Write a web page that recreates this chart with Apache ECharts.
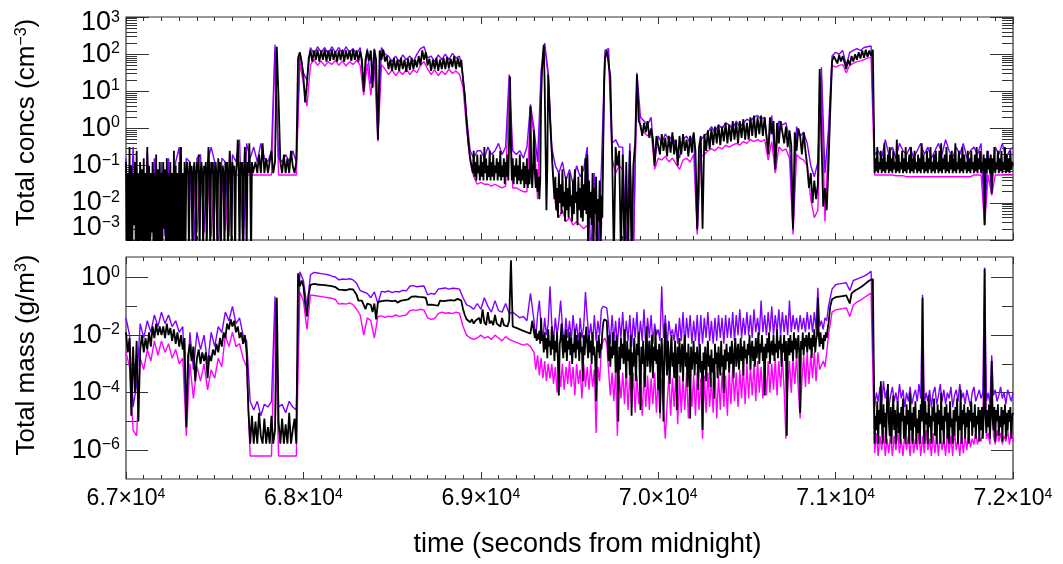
<!DOCTYPE html>
<html>
<head>
<meta charset="utf-8">
<script src="https://cdn.jsdelivr.net/npm/echarts@6/dist/echarts.min.js"></script>
<style>html,body{margin:0;padding:0;background:#fff}#c{width:1063px;height:564px}</style>
</head>
<body>
<div id="c"></div>
<script>
const tStart = 67000, tEnd = 72000;

// =========== Top panel: total concentration (cm^-3), values read as log10 ===========
const concBlackA_start = 67000, concBlackA_step = 5;
const concBlackA = [
-0.9,-3.5,-1.2,-3.5,-0.5,-3.5,-1.0,-3.5,-1.2,-2.6,
-0.9,-3.5,-0.6,-3.5,-1.2,-3.5,-0.9,-3.0,-1.1,-3.5,
-0.8,-3.5,-1.2,-3.5,-0.5,-3.5,-1.0,-3.5,-1.2,-2.8,
-0.9,-3.5,-1.2,-3.5,-0.7,-3.5,-1.1,-3.5,-0.9,-3.5,
-1.2,-3.5,-0.9,-2.7,-1.1,-3.5,-0.8,-3.5,-1.2,-3.5,
-0.9,-3.5,-1.2,-3.5,-0.6,-3.5,-1.0,-3.5,-1.2,-3.5,
-0.9,-3.5,-0.5,-3.5,-1.2,-3.5,-0.9,-3.5,-1.1,-0.9,
-1.2,-3.5,-0.9,-1.2,-1.0,-3.5,-1.2,-0.9,-1.2,-3.5,
-0.9,-1.2,-0.7,-3.5,-1.2,-0.9,-1.2,-3.5,-1.0,-1.2,
-0.9,-3.5,-1.2,-0.5,-1.2,-3.5,-0.9,-1.2,-0.9,-3.5,
-1.2,-0.9,-1.2,-3.5,-0.8,-1.2,-0.9,-3.5,-1.2,-1.0,
-1.2,-3.5,-0.9,-1.2,-0.9,-3.5,-1.2,-0.6,-1.2,-3.5,
-0.9,-1.2,-1.0,-3.5,-1.2,-0.9,-0.3,-1.2,-3.5,-0.9,
-1.2,-0.9,-3.5,-1.2,-0.5,-1.2,-3.5,-0.9,-1.2,-0.4,
-1.2,-3.5,-0.9,-1.2
];
const concBlackB_start = 67720, concBlackB_step = 10;
const concBlackB = [
-1.2,-0.9,-1.2,-0.7,-1.2,-0.4,-1.2,-0.8,
-1.2,-0.9,-0.6,-1.2,-0.9,2.2,0.8,-0.9,-1.2,-0.7,
-1.2,-0.8,-1.2,-0.6,-1.0,-1.2,-0.9,1.9,2.05,1.8,
1.4,0.7,1.2,1.9,2.1,1.8,2.1,1.85,2.12,1.8,
2.1,1.85,2.12,1.8,2.1,1.82,2.13,1.85,2.08,1.8,
2.1,1.84,2.12,1.8,2.1,1.86,2.1,1.82,2.12,1.85,
2.1,1.8,2.08,1.85,1.0,1.85,2.1,1.82,2.1,1.1,
2.12,1.85,-0.3,2.1,1.85,2.12,1.8,1.95,1.6,1.85,
1.55,1.9,1.58,1.85,1.55,1.9,1.6,1.85,1.52,1.88,
1.58,1.9,1.6,1.85,1.65,1.95,1.7,2.1,1.85,2.05,
1.7,1.88,1.55,1.85,1.6,1.9,1.55,1.85,1.6,1.9,
1.6,1.92,1.62,1.88,1.65,1.95,1.6,1.9,1.65,1.85,
1.3,0.9,0.2,-0.4,-0.8
];
const concBlackC_start = 68950, concBlackC_step = 5;
const concBlackC = [
-0.8,-1.2,-0.6,-1.3,-0.9,-1.4,-0.7,-1.2,-1.0,-1.4,
-0.7,-1.3,-0.9,-1.4,-0.5,-1.2,-0.8,-1.4,-1.0,-1.3,
-0.6,-1.4,-0.9,-1.3,-0.7,-1.4,-1.0,-1.2,-0.8,-1.4,
-0.9,-1.3,-0.6,-1.4,-1.0,-1.3,-0.8,-1.5,-0.9,-1.3,
-0.7,-1.4,-0.2,1.4,-0.5,-1.4,-0.8,-1.5,-1.0,-1.3,
-0.8,-1.5,-1.0,-1.4,-0.7,-1.5,-1.1,-1.4,-0.9,-1.6,
-1.0,-1.5,-0.8,-1.6,-1.1,-1.5,0.6,-1.2,-1.6,-1.0,
-0.05,-1.2,-1.6,-1.1,-1.7,-1.3,-1.9,-1.4,0.8,1.55,
2.0,2.25,1.2,-0.5,-2.2,-1.0,1.45,0.9,0.3,-0.2,
-0.6,-1.1,-1.5,-1.9,-1.3,-2.2,-1.6,-2.4,-1.2,-2.0,
-1.5,-2.3,-1.1,-2.1,-1.7,-2.5,-1.3,-2.2,-1.6,-2.4,
-1.2,-2.1,-1.8,-2.5,-1.4,-2.3,-1.1,-2.0,-1.7,-2.6,
-1.3,-2.2,-1.6,-2.4,-1.0,-2.5,-1.5,-2.2,-0.8,-2.3,
-0.7,-3.5,-1.4,-2.4,-1.7,-2.6,-1.2,-3.5,-1.6,-2.3,
-1.3,-3.5,-1.9,-2.5,-1.4,-3.5,-1.8,-2.4,-0.5,1.2
];
const concBlackD_start = 69700, concBlackD_step = 10;
const concBlackD = [
1.9,2.1,2.05,1.4,-0.6,-3.5,-0.5,-1.0,-0.6,-3.5,
-0.7,-3.5,-0.9,-3.5,-0.6,-3.5,-1.0,-0.4,1.45,0.2,
0.1,-0.2,0.15,-0.1,0.2,-0.25,0.0,-0.3,-1.0,-0.2,
-0.2,-0.7,-0.15,-0.6,-0.25,-0.75,-0.2,-0.65,-0.1,-0.7,
-0.3,-1.0,-0.2,-0.7,-0.15,-0.6,-0.3,-0.75,-0.2,-0.65,
-0.1,-0.6,-2.7,-0.5,-0.2,-2.7,-0.15,-0.6,-0.05,-0.55,
0.0,-0.45,0.05,-0.4,0.1,-0.45,0.05,-0.35,0.15,-0.4,
0.1,-0.35,0.2,-0.3,0.15,-0.4,0.2,-0.25,0.25,-0.3,
0.15,-0.3,0.3,-0.2,0.35,-0.25,0.3,-0.15,0.35,-0.2,
0.3,-0.2,-0.7,0.3,-0.15,0.2,-1.1,0.15,-0.4,0.2,
-0.1,-0.4,0.05,-0.5,-0.05,-0.45,-2.7,-0.1,-0.6,0.0,
-0.2,-0.7,-0.1,-0.6,-1.0,-1.6,-1.2,-2.0,-1.4,-1.9,
-1.5,1.6,-0.2,-2.1,-1.6,-2.2,-1.0,0.5,1.8,1.95,
1.95,1.75,1.98,1.8,1.95,1.78,1.6,1.85,1.7,1.95,
1.8,2.0,1.85,2.05,1.88,2.1,1.9,2.12,1.92,2.1,
1.95,2.12
];
const concBlackE_start = 71220, concBlackE_step = 5;
const concBlackE = [
-1.2,-0.8,-1.15,-0.5,-1.2,-0.9,-1.1,-0.6,-1.2,-0.8,
-1.15,-0.4,-1.2,-0.9,-1.1,-0.7,-1.2,-0.5,-1.15,-0.8,
-1.2,-0.6,-1.1,-0.9,-1.2,-0.3,-1.15,-0.7,-1.2,-0.9,
-1.1,-0.6,-1.2,-0.8,-1.15,-0.5,-1.2,-0.9,-1.1,-0.7,
-1.2,-0.5,-1.15,-0.8,-1.2,-0.6,-1.1,-0.9,-1.2,-0.7,
-1.15,-0.8,-1.2,-0.4,-1.1,-0.7,-1.2,-0.9,-1.15,-0.6,
-1.2,-0.8,-1.1,-0.5,-1.2,-0.9,-1.15,-0.7,-1.2,-0.6,
-1.1,-0.9,-1.2,-0.6,-1.15,-0.4,-1.2,-0.8,-1.1,-0.7,
-1.2,-0.5,-1.15,-0.9,-1.2,-0.7,-1.1,-0.6,-1.2,-0.8,
-1.15,-0.4,-1.2,-0.9,-1.1,-0.6,-1.2,-0.8,-1.15,-0.5,
-1.2,-0.7,-1.1,-0.9,-1.2,-0.6,-1.15,-0.8,-1.2,-0.6,
-1.1,-0.9,-1.2,-0.7,-1.15,-0.5,-1.2,-0.8,-1.1,-0.6,
-1.2,-0.9,-1.15,-0.7,-2.6,-0.8,-1.2,-0.6,-1.1,-0.8,
-1.2,-0.7,-1.75,-0.8,-1.15,-0.5,-1.2,-0.9,-1.1,-0.6,
-1.2,-0.8,-1.15,-0.6,-1.2,-0.9,-1.1,-0.5,-1.2,-0.7,
-1.15,-0.8,-1.2,-0.6,-1.1,-0.9,-1.0
];
const concPurple_start = 67000, concPurple_step = 20;
const concPurple = [
-0.8,-3.5,-0.5,-2.8,-0.9,-3.5,-0.6,-2.7,-0.8,-3.5,
-0.9,-2.9,-0.8,-3.5,-0.9,-0.5,-3.5,-0.8,-0.9,-3.5,
-0.8,-0.7,-2.8,-0.9,-0.5,-0.9,-3.5,-0.8,-0.9,-2.9,
-0.7,-0.9,-0.3,-3.5,-0.4,-0.8,-0.5,-0.9,-0.4,-0.8,
-0.9,-0.6,2.25,-0.8,-0.9,-0.7,-0.9,-0.6,-0.9,2.05,
1.5,1.3,2.18,2.0,2.2,2.05,2.18,2.0,2.2,2.05,
2.18,2.0,2.2,2.05,2.15,2.0,2.18,1.15,2.15,1.2,
2.15,-0.2,2.18,2.0,1.95,1.8,1.95,1.8,1.98,1.85,
1.95,1.8,2.0,2.15,2.2,1.9,1.95,1.8,1.98,1.85,
2.0,1.85,2.02,1.9,1.95,1.4,0.3,-0.6,-0.8,-0.6,
-0.6,-0.8,-0.5,-0.7,-0.6,-0.4,-0.7,-0.5,1.45,-0.6,
-0.7,-0.6,-0.8,-0.5,0.65,0.0,-0.9,1.55,2.3,1.5,
-0.5,-1.0,-1.2,-0.9,-1.4,-1.1,-1.5,-1.0,-1.3,-1.1,
-0.5,-3.5,-1.2,-3.5,-1.0,2.1,2.15,-0.4,-0.3,-0.5,
-0.5,-3.5,-0.4,-3.5,1.5,0.3,0.2,0.1,0.3,-0.9,
-0.2,-0.4,-0.15,-0.3,-0.2,-0.45,-0.8,-0.3,-0.2,-0.4,
-0.15,-2.75,-0.3,-0.2,-0.1,0.05,-0.1,0.1,0.0,0.15,
0.1,0.0,0.2,0.05,0.15,0.25,0.2,0.3,0.35,0.25,
0.3,-0.6,0.35,-1.0,0.2,0.1,0.15,-0.3,-2.75,0.05,
-0.2,-0.1,-0.4,-1.0,-1.3,-0.9,1.65,-1.2,0.0,1.95,
2.05,2.0,2.1,1.7,2.05,2.1,2.15,2.1,2.18,2.2,
2.22,-0.7,-0.6,-0.8,-0.3,-0.7,-0.5,-0.8,-0.4,-0.6,
-0.7,-0.5,-0.8,-0.6,-0.4,-0.7,-0.5,-0.8,-0.6,-0.4,
-0.7,-0.3,-0.6,-0.8,-0.5,-0.7,-0.4,-0.8,-0.6,-0.5,
-0.7,-0.4,-2.55,-0.6,-1.7,-0.5,-0.7,-0.4,-0.8,-0.6,-0.5
];
const concMagenta_start = 67000, concMagenta_step = 20;
const concMagenta = [
-1.25,-2.9,-1.25,-1.25,-2.8,-1.25,-1.25,-2.95,-1.25,-1.25,
-2.7,-1.25,-1.25,-2.9,-1.25,-1.25,-2.85,-1.25,-1.25,-1.25,
-2.8,-1.25,-1.25,-1.25,-2.9,-1.25,-1.25,-1.25,-2.75,-1.25,
-1.25,-1.25,-1.25,-1.25,-1.25,-1.25,-1.25,-1.25,-1.25,-1.25,
-1.25,-1.25,2.1,-1.25,-1.25,-1.25,-1.25,-1.25,-1.25,1.8,
1.2,0.6,1.72,1.85,1.7,1.82,1.68,1.8,1.72,1.84,
1.7,1.82,1.68,1.8,1.72,1.84,1.7,0.9,1.75,0.9,
1.7,-0.35,1.72,1.6,1.45,1.58,1.42,1.55,1.45,1.6,
1.45,1.58,1.5,1.7,1.8,1.6,1.45,1.58,1.42,1.55,
1.45,1.6,1.48,1.55,1.45,1.1,0.0,-0.9,-1.3,-1.5,
-1.45,-1.5,-1.5,-1.55,-1.5,-1.55,-1.6,-1.55,1.3,-1.6,
-1.6,-1.65,-1.7,-1.7,0.5,-0.2,-1.9,1.4,2.2,1.4,
-0.7,-2.0,-2.4,-2.2,-2.5,-2.4,-2.6,-2.5,-2.6,-2.7,
-2.6,-3.5,-2.5,-3.5,-2.7,1.9,2.0,-0.8,-1.2,-1.0,
-1.1,-3.5,-1.0,-3.5,1.3,0.0,-0.1,-0.2,-0.05,-1.1,
-0.8,-0.85,-0.75,-0.9,-0.8,-0.95,-1.1,-0.85,-0.8,-0.9,
-0.7,-2.85,-0.75,-0.7,-0.6,-0.55,-0.6,-0.5,-0.55,-0.45,
-0.5,-0.45,-0.4,-0.45,-0.35,-0.4,-0.3,-0.35,-0.3,-0.35,
-0.3,-0.85,-0.35,-1.2,-0.5,-0.6,-0.55,-0.8,-2.85,-0.7,
-0.8,-0.85,-1.0,-1.9,-2.4,-2.2,1.4,-2.5,-0.3,1.7,
1.65,1.7,1.72,1.5,1.7,1.75,1.8,1.82,1.85,1.9,
1.9,-1.25,-1.25,-1.25,-1.25,-1.25,-1.25,-1.27,-1.27,-1.27,
-1.3,-1.3,-1.3,-1.3,-1.3,-1.3,-1.3,-1.3,-1.3,-1.3,
-1.3,-1.3,-1.3,-1.3,-1.3,-1.3,-1.3,-1.3,-1.3,-1.25,
-1.25,-1.25,-2.6,-1.25,-1.8,-1.25,-1.25,-1.25,-1.25,-1.25,-1.25
];

// =========== Bottom panel: total mass (g/m^3), values read as log10 ===========
const massBlackA_start = 67000, massBlackA_step = 10;
const massBlackA = [
-1.9,-2.6,-2.1,-4.8,-2.4,-4.0,-2.2,-5.0,-2.5,-2.0,
-2.6,-2.1,-2.5,-1.9,-2.4,-1.7,-2.1,-1.6,-2.0,-1.7,
-2.0,-1.7,-2.1,-1.6,-2.0,-1.75,-2.2,-1.8,-2.3,-1.9,
-2.4,-2.0,-2.5,-2.1,-5.2,-2.7,-2.3,-2.9,-2.4,-3.6,
-2.8,-2.5,-3.0,-2.6,-2.9,-2.6,-3.5,-2.7,-2.9,-2.5,
-2.7,-2.3,-2.6,-2.1,-2.4,-1.9,-2.1,-1.6,-1.8,-1.45,
-1.7,-1.5,-1.9,-1.7,-2.1,-1.9,-2.3,-2.0,-2.6,-4.6,
-5.77,-4.8,-5.77,-5.0,-5.77,-4.7,-5.5,-5.77,-4.9,-5.77,
-5.2,-5.77,-4.8,-5.77,-5.3,-0.7,-5.0,-5.77,-4.9,-5.77,
-5.1,-5.77,-4.7,-5.77,-5.3,-4.9,-5.77,0.15,-0.3,-0.1,
-0.3,-0.9,-1.35,-0.6,-0.25,-0.2,-0.22,-0.2,-0.24,-0.22,
-0.25,-0.27,-0.26,-0.3,-0.28,-0.32,-0.3,-0.34,-0.33,-0.38,
-0.42,-0.45,-0.43,-0.47,-0.44,-0.42,-0.4,-0.43,-0.41,-0.45,
-0.6,-0.8,-0.85,-0.8,-0.95,-1.1,-0.9,-0.85,-0.95,-1.2,
-0.9,-1.45,-0.85,-0.8,-0.82,-0.86,-0.8,-0.84,-0.8,-0.86,
-0.82,-0.85,-0.8,-0.87,-0.83,-0.8,-0.84,-0.78,-0.82,-0.76,
-0.7,-0.66,-0.68,-0.65,-0.7,-0.67,-0.64,-0.68,-0.66,-0.7,
-0.95,-0.98,-0.94,-1.0,-0.96,-0.93,-0.97,-0.8,-0.78,-0.82,
-0.76,-0.8,-0.74,-0.78,-0.75,-0.8,-0.77,-0.74,-0.78,-0.8,
-1.1,-1.3,-1.45,-1.5,-1.55,-1.45,-1.6,-1.5,-1.55,-1.4,
-1.6,-1.1,-1.55,-1.65,-1.2,-1.6,-1.5,-1.65,-1.3,-1.6,
-1.55,-1.7,-1.4,-1.65,-1.6,-1.7,-1.5,0.6,-1.7,-1.65,
-1.75,-1.7,-1.8,-1.75,-1.85,-1.8,-1.9,-1.85,-1.95,-1.5
];
const massBlackB_start = 69300, massBlackB_step = 5;
const massBlackB = [
-1.9,-2.1,-1.8,-2.2,-1.95,-2.15,-1.85,-2.3,-1.4,-2.2,
-2.0,-2.6,-1.9,-2.5,-2.1,-2.8,-1.8,-2.4,-2.2,-2.7,
-1.7,-2.5,-2.0,-2.9,-2.2,-2.6,-1.9,-3.0,-4.1,-2.3,
-2.1,-1.6,-2.4,-2.8,-2.0,-2.6,-1.8,-2.9,-2.2,-2.5,
-1.9,-2.7,-2.1,-3.0,-2.3,-2.6,-1.8,-2.8,-2.0,-2.5,
-2.2,-2.9,-1.9,-2.6,-2.4,-3.6,-2.0,-2.7,-2.1,-1.7,
-2.3,-2.8,-2.0,-2.6,-2.2,-3.0,-1.9,-2.7,-2.4,-2.9,
-4.3,-2.2,-2.6,-2.0,-2.8,-2.3,-2.5,-1.9,-1.6,-1.45,
-1.4,-1.45,-1.5,-2.2,-2.9,-2.0,-3.1,-2.4,-2.8,-1.9,
-2.7,-2.2,-3.3,-2.0,-2.9,-5.0,-2.4,-3.2,-2.1,-2.8,
-2.3,-3.0,-1.8,-2.7,-3.5,-2.2,-2.9,-2.5,-3.4,-2.0,
-4.8,-2.6,-3.1,-2.1,-2.8,-3.6,-2.3,-2.7,-1.9,-3.2,
-4.6,-2.4,-3.0,-2.2,-2.9,-3.8,-2.5,-1.7,-3.1,-2.6,
-2.2,-3.3,-2.7,-2.0,-3.5,-2.4,-2.9,-1.8,-3.0,-2.5,
-3.9,-2.3,-4.7,-2.6,-2.1,-3.2,-5.0,-2.4,-1.6,-2.8,
-3.4,-2.2,-2.9,-3.7,-2.5,-2.0,-3.1,-2.6,-3.5,-2.2,
-2.8,-4.6,-2.4,-3.0,-2.1,-3.3,-2.7,-2.3,-3.6,-2.5,
-2.0,-3.1,-2.6,-3.8,-2.3,-2.9,-4.9,-2.4,-3.2,-2.7,
-2.2,-3.4,-2.6,-3.0,-2.4,-3.9,-2.8,-2.3,-3.3,-2.9,
-5.3,-2.6,-3.2,-2.4,-3.6,-2.9,-2.2,-3.1,-2.7,-3.8,
-2.5,-3.3,-2.8,-4.2,-2.3,-3.0,-2.6,-3.5,-2.4,-2.9,
-3.4,-2.2,-3.1,-2.7,-4.0,-2.5,-3.2,-2.3,-2.9,-2.6,
-3.3,-2.4,-3.0,-2.2,-2.8,-3.5,-2.5,-2.1,-3.1,-2.6,
-2.3,-3.2,-2.7,-2.1,-2.9,-2.4,-3.4,-2.2,-2.8,-2.5,
-3.0,-2.3,-2.7,-2.0,-3.2,-2.5,-2.2,-2.9,-2.4,-3.1,
-2.1,-2.8,-2.4,-1.9,-3.0,-2.3,-2.6,-2.0,-2.9,-2.4,
-4.1,-2.3,-2.8,-2.1,-2.6,-1.9,-3.0,-2.4,-2.2,-2.7,
-2.0,-2.9,-2.3,-2.6,-1.8,-2.8,-2.2,-2.5,-2.0,-3.1,
-2.3,-2.6,-2.0,-2.9,-2.2,-5.5,-2.4,-2.1,-2.7,-2.0,
-2.6,-2.2,-2.9,-1.9,-2.5,-2.1,-2.8,-2.3,-2.0,-2.6,
-4.7,-2.2,-2.5,-1.9,-2.7,-2.1,-2.4,-2.0,-2.6,-2.2,
-1.9,-2.5,-2.1,-2.8,-2.0,-2.4,-1.8,-2.6,-2.2,-2.0,
-0.7,-2.0,-2.4,-1.9,-2.3,-2.1,-2.5,-2.0,-2.2,-1.9,
-2.1,-1.8
];
const massBlackC_start = 70960, massBlackC_step = 10;
const massBlackC = [
-1.6,-1.0,-0.75,-0.7,
-0.68,-0.65,-0.66,-0.62,-0.64,-0.6,-0.62,-0.58,-0.9,-0.55,
-0.5,-0.45,-0.42,-0.38,-0.35,-0.3,-0.25,-0.2,-0.15,-0.1,
-0.07,-0.05
];
const massBlackD_start = 71220, massBlackD_step = 5;
const massBlackD = [
-5.77,-4.8,-5.3,-4.3,-5.77,-4.6,-5.1,-3.6,-4.9,-5.77,
-4.4,-5.2,-4.7,-5.77,-4.2,-3.7,-5.0,-5.5,-4.5,-5.77,
-4.8,-4.1,-5.3,-4.6,-5.77,-4.9,-4.3,-5.4,-4.7,-5.77,
-4.5,-5.0,-4.2,-5.6,-4.8,-5.77,-4.4,-5.1,-4.6,-5.77,
-4.0,-5.3,-4.7,-5.77,-4.5,-5.2,-4.3,-5.77,-4.9,-5.4,
-4.6,-5.77,-4.4,-5.0,-0.7,-4.8,-5.77,-4.3,-5.1,-4.7,
-5.77,-4.1,-5.2,-4.8,-5.77,-4.5,-5.0,-4.2,-5.5,-4.7,
-5.77,-4.4,-5.1,-4.6,-5.77,-4.0,-5.3,-4.8,-5.77,-4.5,
-5.0,-4.4,-5.6,-4.7,-5.77,-4.3,-5.2,-4.9,-5.77,-4.6,
-5.5,-4.5,-5.0,-4.2,-5.77,-4.8,-5.3,-3.9,-5.77,-4.6,
-5.1,-4.4,-5.6,-4.7,-5.2,-4.5,-5.77,-4.6,-5.0,-4.3,
-5.5,-4.7,-5.2,-4.4,-5.6,-4.8,-5.1,-4.5,-5.7,-4.6,
-5.3,-4.5,-5.6,-4.8,0.3,-4.7,-5.4,-4.6,-5.2,-4.4,
-5.6,-4.7,-2.9,-4.9,-5.3,-4.5,-5.7,-4.6,-5.0,-4.4,
-5.5,-4.8,-5.2,-4.5,-5.7,-4.6,-5.1,-4.4,-5.6,-4.7,
-5.3,-4.6,-5.0,-4.5,-5.6,-4.8,-4.7
];
const massPurpleA_start = 67000, massPurpleA_step = 20;
const massPurpleA = [
-1.4,-2.0,-4.5,-3.7,-1.6,-2.1,-1.5,-1.9,-1.3,-1.7,
-1.2,-1.6,-1.3,-1.7,-1.5,-1.9,-1.7,-4.9,-1.9,-3.2,
-1.9,-2.5,-2.0,-3.0,-1.9,-2.4,-1.7,-1.9,-1.2,-1.5,
-1.0,-1.6,-1.4,-2.0,-2.2,-4.3,-4.6,-4.3,-4.8,-4.4,
-4.5,-4.3,-0.66,-4.5,-4.4,-4.7,-4.3,-4.5,-4.6,0.2,
-0.1,-1.0,0.1,0.18,0.16,0.14,0.12,0.1,0.05,0.02,
-0.08,-0.05,-0.06,-0.04,-0.08,-0.2,-0.45,-0.5,-0.55,-0.7,
-0.5,-0.9,-0.48,-0.5,-0.46,-0.52,-0.48,-0.5,-0.44,-0.46,
-0.3,-0.28,-0.32,-0.3,-0.29,-0.6,-0.55,-0.58,-0.4,-0.38,
-0.36,-0.4,-0.37,-0.38,-0.4,-0.7,-0.95,-1.0,-1.1,-0.9,
-1.1,-0.7,-1.0,-1.2,-0.8,-1.15,-1.2,-0.9,-1.25,-1.2,
-1.3,-1.4,-1.35,-1.5,-0.55
];
const massPurpleB_start = 69300, massPurpleB_step = 10;
const massPurpleB = [
-1.5,-2.1,-1.3,-0.8,-1.7,-2.2,-1.4,-2.0,-1.6,-0.3,
-1.6,-2.2,-1.4,-2.0,-1.5,-0.8,-1.7,-2.3,-1.4,-2.1,
-1.5,-2.2,-1.3,-2.0,-1.6,-2.3,-1.4,-2.1,-1.7,-0.5,
-1.4,-2.1,-1.6,-2.3,-1.3,-2.2,-1.5,-2.0,-1.1,-1.0,
-0.95,-1.05,-1.6,-2.3,-1.3,-2.2,-1.5,-2.4,-1.4,-2.1,
-1.2,-2.3,-1.5,-2.2,-1.3,-2.4,-1.4,-2.1,-1.2,-2.3,
-1.5,-2.2,-1.1,-2.4,-1.4,-2.1,-1.3,-2.3,-1.6,-2.0,
-1.8,-2.2,-0.3,-2.1,-1.3,-2.4,-1.5,-2.0,-1.8,-2.2,
-1.6,-2.3,-1.4,-2.2,-1.2,-2.4,-1.4,-2.1,-1.3,-2.3,
-1.5,-2.2,-1.3,-2.4,-1.3,-2.3,-1.4,-2.1,-1.2,-2.2,
-1.5,-2.3,-1.4,-2.2,-1.3,-2.1,-1.4,-2.3,-1.3,-2.1,
-1.4,-2.1,-1.2,-2.2,-1.3,-2.0,-1.1,-2.1,-1.4,-2.0,
-1.2,-2.0,-1.3,-2.1,-1.1,-1.9,-1.4,-2.0,-0.8,-1.9,
-1.3,-2.0,-1.2,-1.9,-1.0,-2.0,-1.3,-1.9,-1.1,-2.0,
-1.2,-1.9,-1.3,-2.0,-0.8,-1.9,-1.3,-1.8,-1.4,-1.9,
-1.3,-1.8,-1.4,-1.9,-1.2,-1.8,-1.3,-1.9,-1.2,-1.8,
-0.35,-1.7,-1.5,-1.8,-1.4,-1.5
];
const massPurpleC_start = 70960, massPurpleC_step = 20;
const massPurpleC = [
-1.0,-0.4,-0.25,-0.22,-0.2,-0.18,-0.45,-0.1,-0.05,0.0,0.05,0.12,0.22
];
const massPurpleD_start = 71220, massPurpleD_step = 10;
const massPurpleD = [
-4.5,-4.0,-4.3,-3.8,-4.4,-3.6,-4.2,-3.9,-4.5,-4.1,
-3.8,-4.3,-4.0,-4.4,-3.7,-4.2,-3.9,-4.5,-4.0,-4.3,
-3.8,-4.4,-4.1,-3.9,-4.3,-3.7,-4.2,-0.6,-4.4,-4.0,
-4.3,-3.9,-4.5,-4.0,-3.8,-4.4,-4.1,-3.7,-4.3,-3.9,
-4.4,-4.0,-4.2,-3.8,-4.5,-4.1,-3.9,-4.3,-3.7,-4.2,
-4.0,-4.4,-3.9,-4.2,-4.5,-4.0,-3.8,-4.3,-4.1,-3.9,
-4.2,-4.0,0.35,-4.3,-4.0,-4.4,-2.7,-4.1,-3.9,-4.3,
-4.1,-3.8,-4.2,-4.0,-4.4,-3.9,-4.1,-4.3,-4.0
];
const massMagentaA_start = 67000, massMagentaA_step = 20;
const massMagentaA = [
-2.6,-3.1,-5.3,-5.5,-2.8,-3.2,-2.5,-2.9,-2.2,-2.7,
-2.2,-2.6,-2.3,-2.8,-2.5,-3.0,-2.8,-5.5,-3.0,-4.2,
-3.1,-3.6,-3.0,-3.9,-3.2,-3.5,-2.8,-3.1,-2.0,-2.4,
-1.9,-2.4,-2.3,-2.8,-3.1,-6.2,-6.2,-6.2,-6.2,-6.2,
-6.2,-6.2,-1.2,-6.2,-6.2,-6.2,-6.2,-6.2,-6.2,-0.5,
-0.8,-1.8,-0.6,-0.62,-0.64,-0.66,-0.68,-0.7,-0.72,-0.76,
-0.92,-0.9,-0.92,-0.88,-0.94,-1.1,-1.3,-2.0,-1.4,-1.5,
-2.1,-1.35,-1.33,-1.38,-1.34,-1.36,-1.3,-1.35,-1.32,-1.3,
-1.15,-1.12,-1.14,-1.1,-1.13,-1.4,-1.45,-1.42,-1.25,-1.2,
-1.24,-1.22,-1.25,-1.2,-1.24,-1.7,-2.0,-2.1,-2.15,-2.1,
-2.0,-2.1,-2.05,-2.15,-2.0,-2.1,-2.2,-2.05,-2.15,-2.2,
-2.25,-2.3,-2.35,-2.3,-2.4
];
const massMagentaB_start = 69300, massMagentaB_step = 10;
const massMagentaB = [
-2.6,-3.2,-2.7,-3.4,-2.8,-3.5,-2.9,-3.6,-3.0,-3.5,
-3.0,-3.7,-3.1,-4.0,-2.9,-3.8,-3.0,-3.9,-3.1,-3.7,
-2.9,-3.8,-3.1,-4.1,-3.0,-3.7,-3.2,-4.2,-3.0,-3.8,
-3.1,-3.9,-3.0,-3.8,-3.2,-5.4,-3.1,-3.6,-2.4,-2.2,
-2.1,-2.3,-3.2,-4.1,-3.3,-4.3,-3.2,-5.5,-3.4,-4.2,
-3.3,-4.4,-3.2,-4.6,-3.4,-4.5,-3.3,-4.7,-3.4,-4.4,
-3.5,-4.8,-3.3,-4.5,-3.4,-4.6,-3.5,-4.4,-3.3,-4.7,
-3.4,-4.9,-3.5,-4.6,-5.6,-4.4,-3.4,-4.8,-3.5,-4.5,
-3.3,-5.1,-3.4,-4.7,-3.5,-4.6,-3.3,-4.9,-3.6,-4.5,
-3.4,-4.8,-3.3,-4.6,-3.5,-5.6,-3.4,-4.7,-3.3,-4.5,
-3.5,-4.7,-3.3,-4.9,-3.4,-4.6,-3.3,-4.5,-3.4,-4.8,
-3.2,-4.4,-3.1,-4.3,-3.3,-4.5,-3.2,-4.2,-3.1,-4.4,
-3.0,-4.2,-3.1,-4.1,-3.0,-4.3,-2.9,-4.0,-3.1,-4.2,
-3.0,-4.1,-2.9,-4.0,-3.0,-3.9,-2.8,-4.1,-2.9,-3.8,
-2.8,-3.9,-5.6,-3.8,-2.9,-4.0,-2.8,-3.7,-2.7,-3.9,
-4.9,-3.6,-2.7,-3.8,-2.6,-3.7,-2.7,-3.5,-2.6,-3.6,
-2.6,-3.2,-3.2,-2.9,-3.1,-2.6
];
const massMagentaC_start = 70960, massMagentaC_step = 20;
const massMagentaC = [
-2.0,-1.2,-1.12,-1.1,-1.08,-1.05,-1.35,-0.95,-0.85,-0.78,-0.7,-0.62,-0.54
];
const massMagentaD_start = 71220, massMagentaD_step = 10;
const massMagentaD = [
-6.1,-5.4,-6.2,-5.5,-6.0,-5.3,-6.2,-5.6,-6.1,-5.4,
-6.2,-5.5,-6.0,-5.3,-6.1,-5.6,-6.2,-5.4,-6.0,-5.5,
-6.2,-5.3,-6.1,-5.6,-6.0,-5.4,-6.2,-5.5,-6.1,-5.3,
-6.0,-5.6,-6.2,-5.4,-6.1,-5.5,-6.2,-5.3,-6.0,-5.6,
-6.2,-5.4,-6.1,-5.5,-6.2,-5.3,-6.0,-5.6,-6.2,-5.4,
-6.1,-5.5,-6.0,-5.3,-5.9,-5.6,-5.8,-5.4,-5.8,-5.5,
-5.7,-5.3,-0.9,-5.6,-5.4,-5.8,-3.5,-5.5,-5.8,-5.3,
-5.7,-5.4,-5.8,-5.5,-5.7,-5.3,-5.8,-5.4,-5.7
];

// ---- axis tick / label values ----
const concDecades = [1e-3, 1e-2, 1e-1, 1, 10, 100, 1000];
const concMidLabels = [1e-2, 1e-1, 1, 10, 100];
const massEvenDecades = [1e-6, 1e-4, 1e-2, 1];
const massOddDecades = [1e-5, 1e-3, 1e-1];
const concMinorTicks = [];
for (let d = -3; d <= 2; d++) for (let m = 2; m <= 9; m++) concMinorTicks.push(m * Math.pow(10, d));

// ---- build series data (log10 readings -> values) ----
const problems = [];
function joinPieces(name, pieces) {
  let out = [];
  pieces.forEach((p, k) => {
    const [start, step, arr] = p;
    if (k > 0) {
      const prev = pieces[k - 1];
      const prevEnd = prev[0] + prev[1] * (prev[2].length - 1);
      if (prevEnd >= start) problems.push(name + k);
    }
    out = out.concat(arr.map((v, i) => [start + i * step, Math.pow(10, v)]));
  });
  if (out[out.length - 1][0] !== tEnd) problems.push(name + 'end' + out[out.length - 1][0]);
  return out;
}
const concBlackData = joinPieces('cb', [
  [concBlackA_start, concBlackA_step, concBlackA], [concBlackB_start, concBlackB_step, concBlackB],
  [concBlackC_start, concBlackC_step, concBlackC], [concBlackD_start, concBlackD_step, concBlackD],
  [concBlackE_start, concBlackE_step, concBlackE]]);
const concPurpleData = joinPieces('cp', [[concPurple_start, concPurple_step, concPurple]]);
const concMagentaData = joinPieces('cm', [[concMagenta_start, concMagenta_step, concMagenta]]);
const massBlackData = joinPieces('mb', [
  [massBlackA_start, massBlackA_step, massBlackA], [massBlackB_start, massBlackB_step, massBlackB],
  [massBlackC_start, massBlackC_step, massBlackC], [massBlackD_start, massBlackD_step, massBlackD]]);
const massPurpleData = joinPieces('mp', [
  [massPurpleA_start, massPurpleA_step, massPurpleA], [massPurpleB_start, massPurpleB_step, massPurpleB],
  [massPurpleC_start, massPurpleC_step, massPurpleC], [massPurpleD_start, massPurpleD_step, massPurpleD]]);
const massMagentaData = joinPieces('mm', [
  [massMagentaA_start, massMagentaA_step, massMagentaA], [massMagentaB_start, massMagentaB_step, massMagentaB],
  [massMagentaC_start, massMagentaC_step, massMagentaC], [massMagentaD_start, massMagentaD_step, massMagentaD]]);

const FF = '"Liberation Sans", Arial, Helvetica, sans-serif';

function expStr(v) {
  const n = Math.round(Math.log10(v));
  return n < 0 ? '\u2212' + (-n) : String(n);
}
function expLabel(v) { return '{b|10}{s|' + expStr(v) + '}'; }

const richY = {
  b: { fontSize: 27, fontFamily: FF, color: '#000' },
  s: { fontSize: 16, fontFamily: FF, color: '#000', verticalAlign: 'top' }
};
const richX = {
  b: { fontSize: 23, fontFamily: FF, color: '#000' },
  s: { fontSize: 14, fontFamily: FF, color: '#000', verticalAlign: 'top' }
};

const tickColor = '#333';
function xAxisCfg(grid, pos, labels) {
  const a = {
    type: 'value', gridIndex: grid, position: pos, min: tStart, max: tEnd, interval: 1000,
    axisLine: { show: false }, splitLine: { show: false },
    axisTick: { show: true, inside: true, length: 7, lineStyle: { color: tickColor, width: 1 } },
    minorTick: { show: true, splitNumber: 10, length: 4, lineStyle: { color: tickColor, width: 1 } },
    axisLabel: { show: false }
  };
  if (labels) {
    a.axisLabel = {
      show: true, margin: 8,
      formatter: v => '{b|' + (v / 1e4).toFixed(1) + '\u00d710}{s|4}',
      rich: richX
    };
    a.name = 'time (seconds from midnight)';
    a.nameLocation = 'middle';
    a.nameGap = 52;
    a.nameTextStyle = { fontSize: 27, fontFamily: FF, color: '#000', padding: [0, 0, 0, 36] };
  }
  return a;
}
function yAxisCfg(grid, pos, min, max, ticks, tickLen, labelVals, extra) {
  const a = {
    type: 'log', logBase: 10, gridIndex: grid, position: pos, min: min, max: max,
    axisLine: { show: false }, splitLine: { show: false },
    axisTick: { show: true, inside: true, length: tickLen, customValues: ticks, lineStyle: { color: tickColor, width: 1 } },
    axisLabel: labelVals ? { show: true, customValues: labelVals, formatter: expLabel, rich: richY, margin: 6 } : { show: false }
  };
  return Object.assign(a, extra || {});
}
const nameRich = { s: { fontSize: 16, fontFamily: FF, color: '#000', verticalAlign: 'top' } };

const yAxes = [
  yAxisCfg(0, 'left', 1e-3, 1e3, concDecades, 23, concMidLabels, {
    name: 'Total concs (cm{s|\u22123})', nameLocation: 'middle', nameGap: 86, nameRotate: 90,
    nameTextStyle: { fontSize: 26, fontFamily: FF, color: '#000', padding: [0, 0, 0, 12], rich: nameRich }
  }),
  yAxisCfg(0, 'left', 1e-3, 1e3, concMinorTicks, 11, null),
  yAxisCfg(0, 'left', 1e-3, 1e3, [], 0, [1e3]),
  yAxisCfg(0, 'left', 1e-3, 1e3, [], 0, [1e-3]),
  yAxisCfg(0, 'right', 1e-3, 1e3, concDecades, 23, null),
  yAxisCfg(0, 'right', 1e-3, 1e3, concMinorTicks, 11, null),
  yAxisCfg(1, 'left', 1e-7, 5.2, massEvenDecades, 22, massEvenDecades, {
    name: 'Total mass (g/m{s|3})', nameLocation: 'middle', nameGap: 86, nameRotate: 90,
    nameTextStyle: { fontSize: 26, fontFamily: FF, color: '#000', padding: [0, 0, 0, 26], rich: nameRich }
  }),
  yAxisCfg(1, 'left', 1e-7, 5.2, massOddDecades, 11, null),
  yAxisCfg(1, 'right', 1e-7, 5.2, massEvenDecades, 22, null),
  yAxisCfg(1, 'right', 1e-7, 5.2, massOddDecades, 11, null)
];
yAxes[2].axisLabel.padding = [12, 0, 0, 0];
yAxes[3].axisLabel.padding = [0, 0, 24, 0];

function lineSeries(xi, yi, data, color, width, z) {
  return {
    type: 'line', xAxisIndex: xi, yAxisIndex: yi, data: data,
    showSymbol: false, symbol: 'none', z: z, silent: true,
    lineStyle: { color: color, width: width, join: 'bevel' }, itemStyle: { color: color }, animation: false
  };
}

const chart = echarts.init(document.getElementById('c'), null, { renderer: 'canvas' });
chart.setOption({
  backgroundColor: '#fff',
  animation: false,
  grid: [
    { left: 126, top: 17, width: 887, height: 223, show: true, borderColor: '#333', borderWidth: 1.2, backgroundColor: 'transparent' },
    { left: 126, top: 257, width: 887, height: 222, show: true, borderColor: '#333', borderWidth: 1.2, backgroundColor: 'transparent' }
  ],
  xAxis: [xAxisCfg(0, 'bottom', false), xAxisCfg(0, 'top', false), xAxisCfg(1, 'bottom', true), xAxisCfg(1, 'top', false)],
  yAxis: yAxes,
  series: [
    lineSeries(0, 0, concMagentaData, '#ff00ff', 1.4, 2),
    lineSeries(0, 0, concPurpleData, '#8000ff', 1.4, 3),
    lineSeries(0, 0, concBlackData, '#000000', 1.8, 4),
    lineSeries(2, 6, massMagentaData, '#ff00ff', 1.4, 2),
    lineSeries(2, 6, massPurpleData, '#8000ff', 1.4, 3),
    lineSeries(2, 6, massBlackData, '#000000', 1.8, 4)
  ],
  graphic: problems.length ? [{ type: 'text', left: 400, top: 240, z: 100, style: { text: 'SEG ' + problems.join(','), fontSize: 20, fill: 'red' } }] : []
});
</script>
</body>
</html>
